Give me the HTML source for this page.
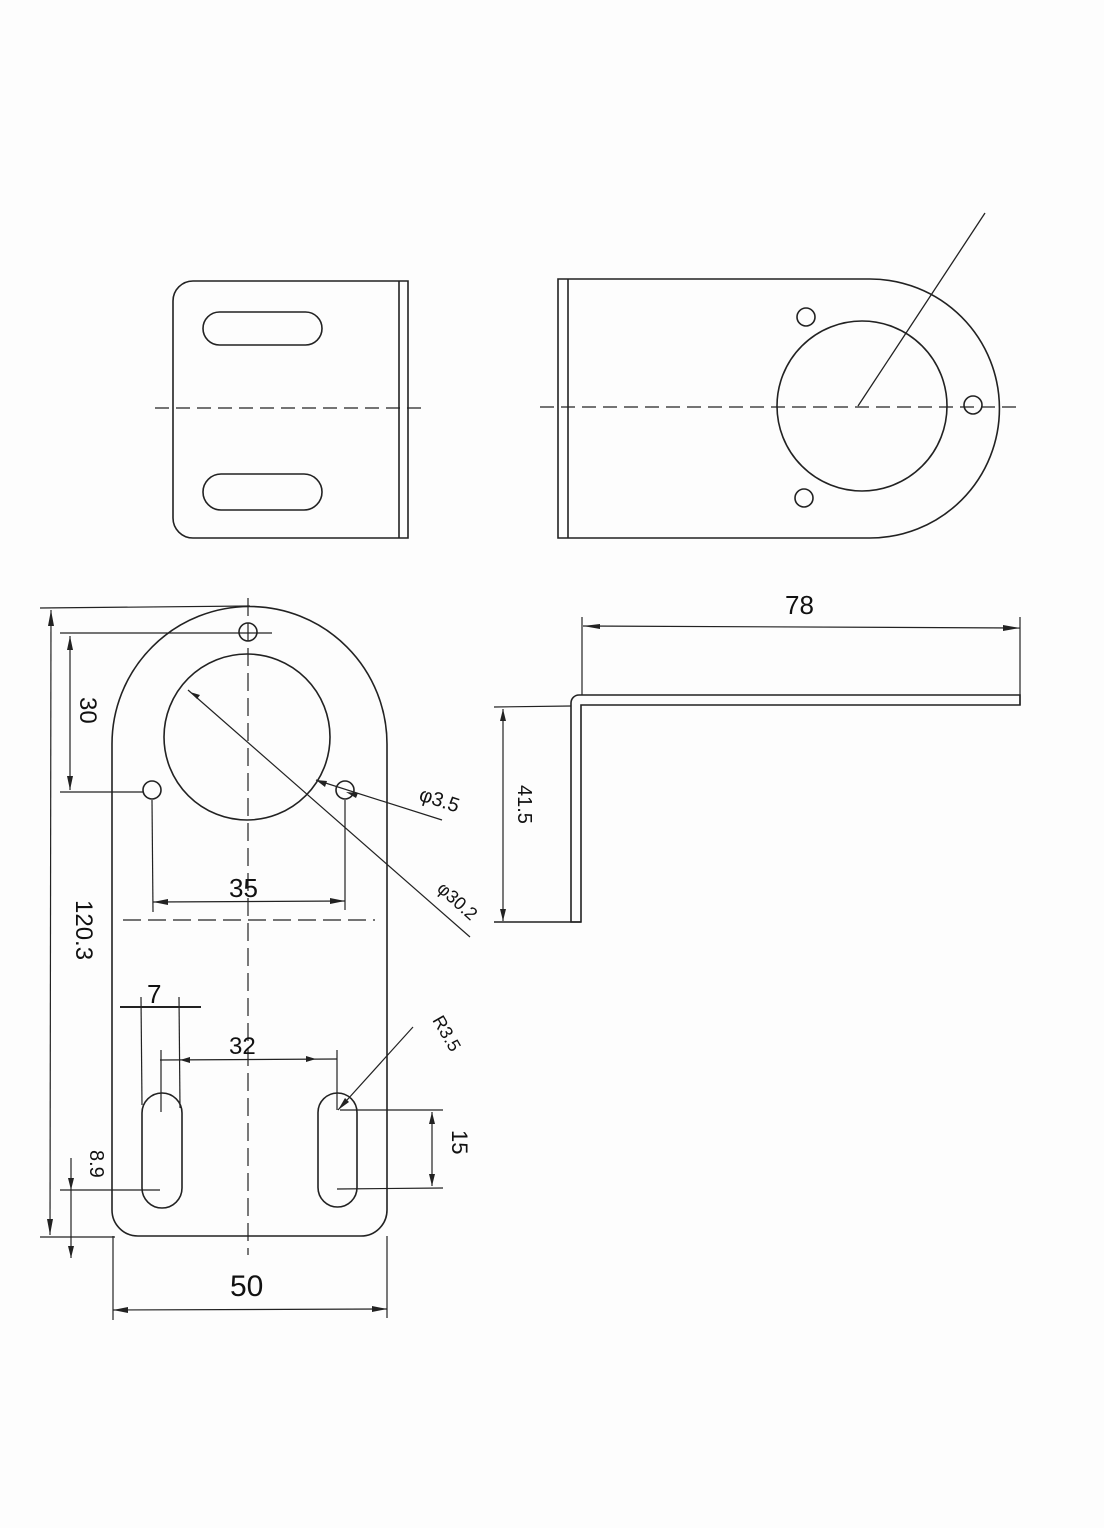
<!DOCTYPE html>
<html><head><meta charset="utf-8"><style>
html,body{margin:0;padding:0;background:#fdfdfd;}
svg{display:block}
text{font-family:"Liberation Sans",sans-serif;fill:#111}
</style></head><body>
<svg width="1104" height="1528" viewBox="0 0 1104 1528" xmlns="http://www.w3.org/2000/svg">
<rect width="1104" height="1528" fill="#fdfdfd"/>
<g fill="none" stroke="#222" stroke-width="1.6">
<!-- top-left view -->
<path d="M193 281 H408 V538 H193 A20 20 0 0 1 173 518 V301 A20 20 0 0 1 193 281 Z"/>
<line x1="399" y1="281" x2="399" y2="538"/>
<rect x="203" y="312" width="119" height="33" rx="16.5"/>
<rect x="203" y="474" width="119" height="36" rx="18"/>
<line x1="155" y1="408" x2="428" y2="408" stroke-dasharray="14,7" stroke-width="1.2"/>
<!-- top-right view -->
<path d="M558 279 H870 A129.5 129.5 0 0 1 870 538 H558 Z"/>
<line x1="568" y1="279" x2="568" y2="538"/>
<circle cx="862" cy="406" r="85"/>
<circle cx="806" cy="317" r="9"/>
<circle cx="973" cy="405" r="9"/>
<circle cx="804" cy="498" r="9"/>
<line x1="858" y1="406" x2="985" y2="213" stroke-width="1.3"/>
<line x1="540" y1="407" x2="1020" y2="407" stroke-dasharray="14,7" stroke-width="1.2"/>
<!-- bottom-left main view -->
<path d="M112 744 A137.5 137.5 0 0 1 387 744 V1210 A26 26 0 0 1 361 1236 H138 A26 26 0 0 1 112 1210 Z"/>
<circle cx="247" cy="737" r="83"/>
<circle cx="248" cy="632" r="9"/>
<circle cx="152" cy="790" r="9"/>
<circle cx="345" cy="790" r="9"/>
<line x1="248" y1="598" x2="248" y2="1255" stroke-dasharray="18,7" stroke-width="1.2"/>
<line x1="123" y1="920" x2="375" y2="920" stroke-dasharray="18,7" stroke-width="1.2"/>
<rect x="142" y="1093" width="40" height="115" rx="20"/>
<rect x="318" y="1093" width="39" height="114" rx="19.5"/>
<g stroke-width="1.2">
<line x1="40" y1="608" x2="250" y2="606"/>
<line x1="40" y1="1237" x2="115" y2="1237"/>
<line x1="51" y1="610" x2="50" y2="1235"/>
<line x1="60" y1="633" x2="272" y2="633"/>
<line x1="60" y1="792" x2="143" y2="792"/>
<line x1="70" y1="636" x2="70" y2="790"/>
<line x1="152" y1="800" x2="153" y2="912"/>
<line x1="345" y1="800" x2="345" y2="910"/>
<line x1="153" y1="902" x2="345" y2="901"/>
<line x1="188" y1="690" x2="470" y2="937"/>
<line x1="316" y1="780" x2="442" y2="820"/>
<line x1="120" y1="1007" x2="201" y2="1007" stroke-width="2"/>
<line x1="141" y1="997" x2="142" y2="1105"/>
<line x1="179" y1="997" x2="180" y2="1108"/>
<line x1="160" y1="1060" x2="337" y2="1059"/>
<line x1="161" y1="1050" x2="161" y2="1112"/>
<line x1="337" y1="1050" x2="337" y2="1110"/>
<line x1="338" y1="1110" x2="413" y2="1027"/>
<line x1="340" y1="1110" x2="443" y2="1110"/>
<line x1="337" y1="1189" x2="443" y2="1188"/>
<line x1="432" y1="1112" x2="432" y2="1186"/>
<line x1="60" y1="1190" x2="160" y2="1190"/>
<line x1="71" y1="1158" x2="71" y2="1258"/>
<line x1="113" y1="1236" x2="113" y2="1320"/>
<line x1="387" y1="1236" x2="387" y2="1318"/>
<line x1="113" y1="1310" x2="387" y2="1309"/>
</g>
<!-- side view -->
<path d="M571 922 V703 A8 8 0 0 1 579 695 H1020 V705 H581 V922 Z"/>
<line x1="494" y1="922" x2="581" y2="922"/>
<g stroke-width="1.2">
<line x1="582" y1="617" x2="582" y2="695"/>
<line x1="1020" y1="617" x2="1020" y2="705"/>
<line x1="583" y1="626" x2="1020" y2="628"/>
<line x1="494" y1="707" x2="571" y2="706"/>
<line x1="503" y1="709" x2="503" y2="921"/>
</g>
</g>
<g fill="#222">
<polygon points="51,610 48,626 54,626"/><polygon points="50,1235 47,1219 53,1219"/>
<polygon points="70,636 67,650 73,650"/><polygon points="70,790 67,776 73,776"/>
<polygon points="153,902 168,899 168,905"/><polygon points="345,901 330,898 330,904"/>
<polygon points="190,692 200,695 197,699"/><polygon points="316,780 327,781 325,787"/>
<polygon points="346,792 358,793 356,798"/>
<polygon points="180,1060 190,1057 190,1063"/><polygon points="316,1059 306,1056 306,1062"/>
<polygon points="338,1110 345,1098 349,1102"/>
<polygon points="432,1112 429,1124 435,1124"/><polygon points="432,1186 429,1174 435,1174"/>
<polygon points="71,1190 68,1178 74,1178"/><polygon points="71,1258 68,1246 74,1246"/>
<polygon points="113,1310 128,1307 128,1313"/><polygon points="387,1309 372,1306 372,1312"/>
<polygon points="583,626 600,624 600,629"/><polygon points="1020,628 1003,625 1003,631"/>
<polygon points="503,709 500,721 506,721"/><polygon points="503,921 500,909 506,909"/>
</g>
<text x="229" y="897" font-size="26">35</text>
<text x="147" y="1003" font-size="26">7</text>
<text x="229" y="1054" font-size="24">32</text>
<text x="230" y="1296" font-size="30">50</text>
<text x="785" y="614" font-size="26">78</text>
<text font-size="24" transform="translate(80,697) rotate(90)">30</text>
<text font-size="24" transform="translate(76,900) rotate(90)">120.3</text>
<text font-size="20" transform="translate(90,1150) rotate(90)">8.9</text>
<text font-size="22" transform="translate(452,1130) rotate(90)">15</text>
<text font-size="20" transform="translate(518,785) rotate(90)">41.5</text>
<text font-size="20" transform="translate(418,800) rotate(18)">φ3.5</text>
<text font-size="18" transform="translate(436,890) rotate(42)">φ30.2</text>
<text font-size="18" transform="translate(432,1020) rotate(60)">R3.5</text>
</svg>
</body></html>
